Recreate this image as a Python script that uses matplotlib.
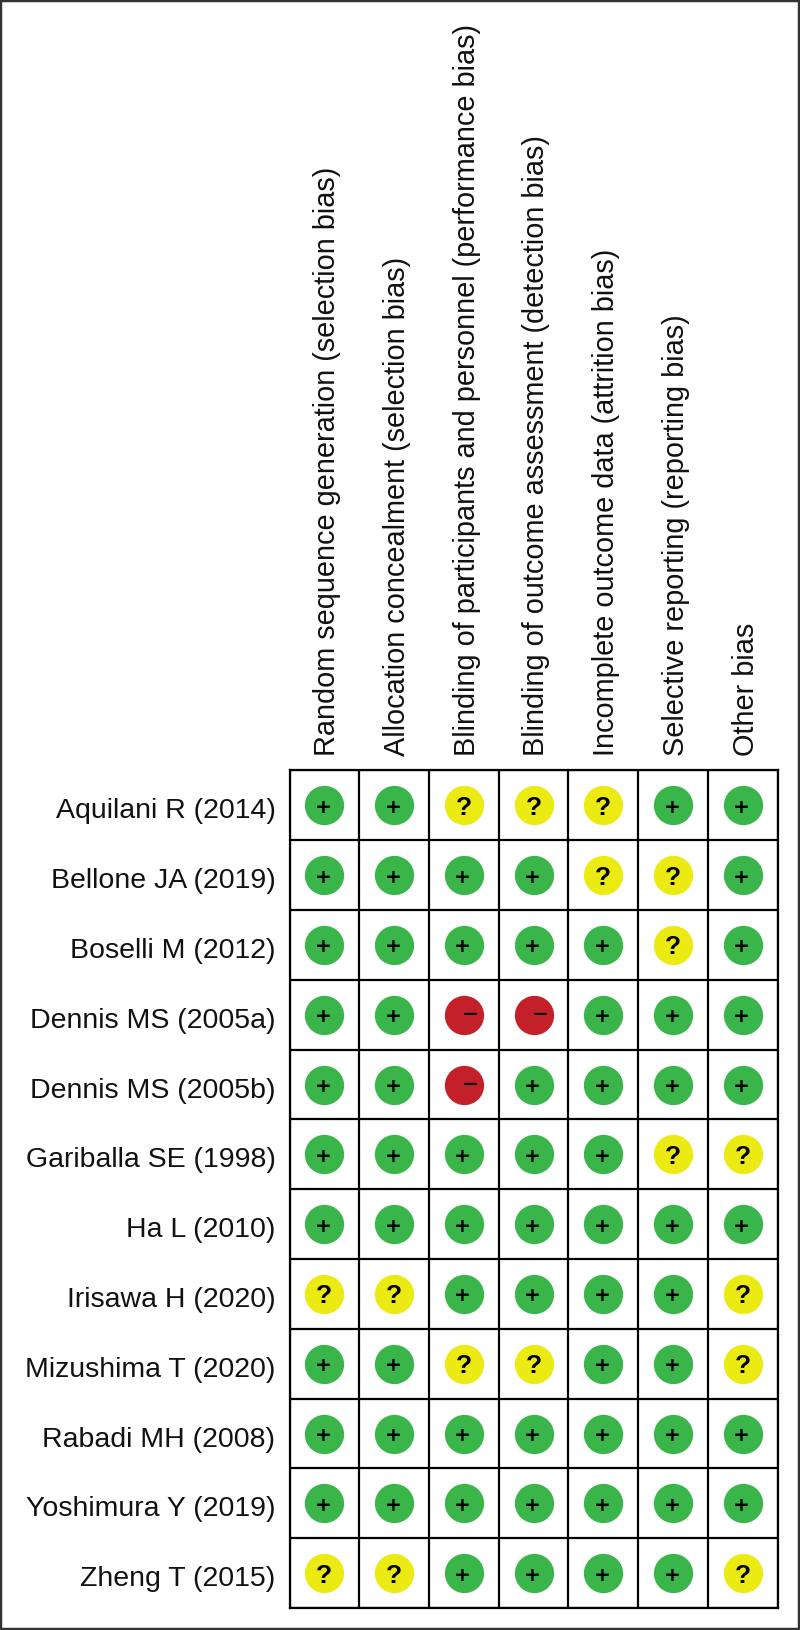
import matplotlib
matplotlib.use("Agg")
import matplotlib.pyplot as plt
from matplotlib.patches import Rectangle

studies = ["Aquilani R (2014)", "Bellone JA (2019)", "Boselli M (2012)", "Dennis MS (2005a)",
           "Dennis MS (2005b)", "Gariballa SE (1998)", "Ha L (2010)", "Irisawa H (2020)",
           "Mizushima T (2020)", "Rabadi MH (2008)", "Yoshimura Y (2019)", "Zheng T (2015)"]

domains = ["Random sequence generation (selection bias)",
           "Allocation concealment (selection bias)",
           "Blinding of participants and personnel (performance bias)",
           "Blinding of outcome assessment (detection bias)",
           "Incomplete outcome data (attrition bias)",
           "Selective reporting (reporting bias)",
           "Other bias"]

judgements = ["++???++",
              "++++??+",
              "+++++?+",
              "++--+++",
              "++-++++",
              "+++++??",
              "+++++++",
              "??++++?",
              "++??++?",
              "+++++++",
              "+++++++",
              "??++++?"]

colors = {"+": "#39b54a", "?": "#ecea13", "-": "#c4202a"}

W, H = 800, 1630
fig = plt.figure(figsize=(W / 100, H / 100), dpi=100, facecolor="white")

# outer frame of the picture
fig.add_artist(Rectangle((0, 0), 1, 1, transform=fig.transFigure, fill=False,
                         edgecolor="#333333", linewidth=3.2))

left, right, top, bottom = 289.5, 777.5, 770.5, 1608
ax = fig.add_axes([left / W, 1 - bottom / H, (right - left) / W, (bottom - top) / H])
ax.set_xlim(0, 7)
ax.set_ylim(12, 0)
ax.set_xticks(range(8))
ax.set_yticks(range(13))
ax.grid(True, color="black", linewidth=1.6)
ax.set_axisbelow(True)
ax.tick_params(length=0, labelbottom=False, labelleft=False)
for s in ax.spines.values():
    s.set_linewidth(1.6)

font = "Liberation Sans"

for r, row in enumerate(judgements):
    for c, j in enumerate(row):
        ax.scatter(c + 0.5, r + 0.5, s=800, color=colors[j], linewidths=0, zorder=3)
        if j == "+":
            ax.annotate("+", (c + 0.5, r + 0.5), xytext=(-1, 0), textcoords="offset pixels",
                        ha="center", va="center_baseline", fontsize=14.5, fontweight="bold",
                        family="DejaVu Sans", color="black", zorder=4)
        elif j == "?":
            ax.annotate("?", (c + 0.5, r + 0.5), xytext=(0, 0), textcoords="offset pixels",
                        ha="center", va="center_baseline", fontsize=19, fontweight="bold",
                        family=font, color="black", zorder=4)
        else:
            ax.annotate("\u2212", (c + 0.5, r + 0.5), xytext=(7, 2), textcoords="offset pixels",
                        ha="center", va="center_baseline", fontsize=14.5, fontweight="bold",
                        family="DejaVu Sans", color="black", zorder=4)

for r, name in enumerate(studies):
    ax.annotate(name, (0, r + 0.5), xytext=(-14, -6), textcoords="offset pixels",
                ha="right", va="center", fontsize=20.5, family=font, color="#111111")

for c, name in enumerate(domains):
    ax.annotate(name, (c + 0.5, 0), xytext=(3, 14), textcoords="offset pixels",
                ha="center", va="bottom", rotation=90, fontsize=20.8, family=font, color="#111111")

fig.savefig("out.png", dpi=100)
